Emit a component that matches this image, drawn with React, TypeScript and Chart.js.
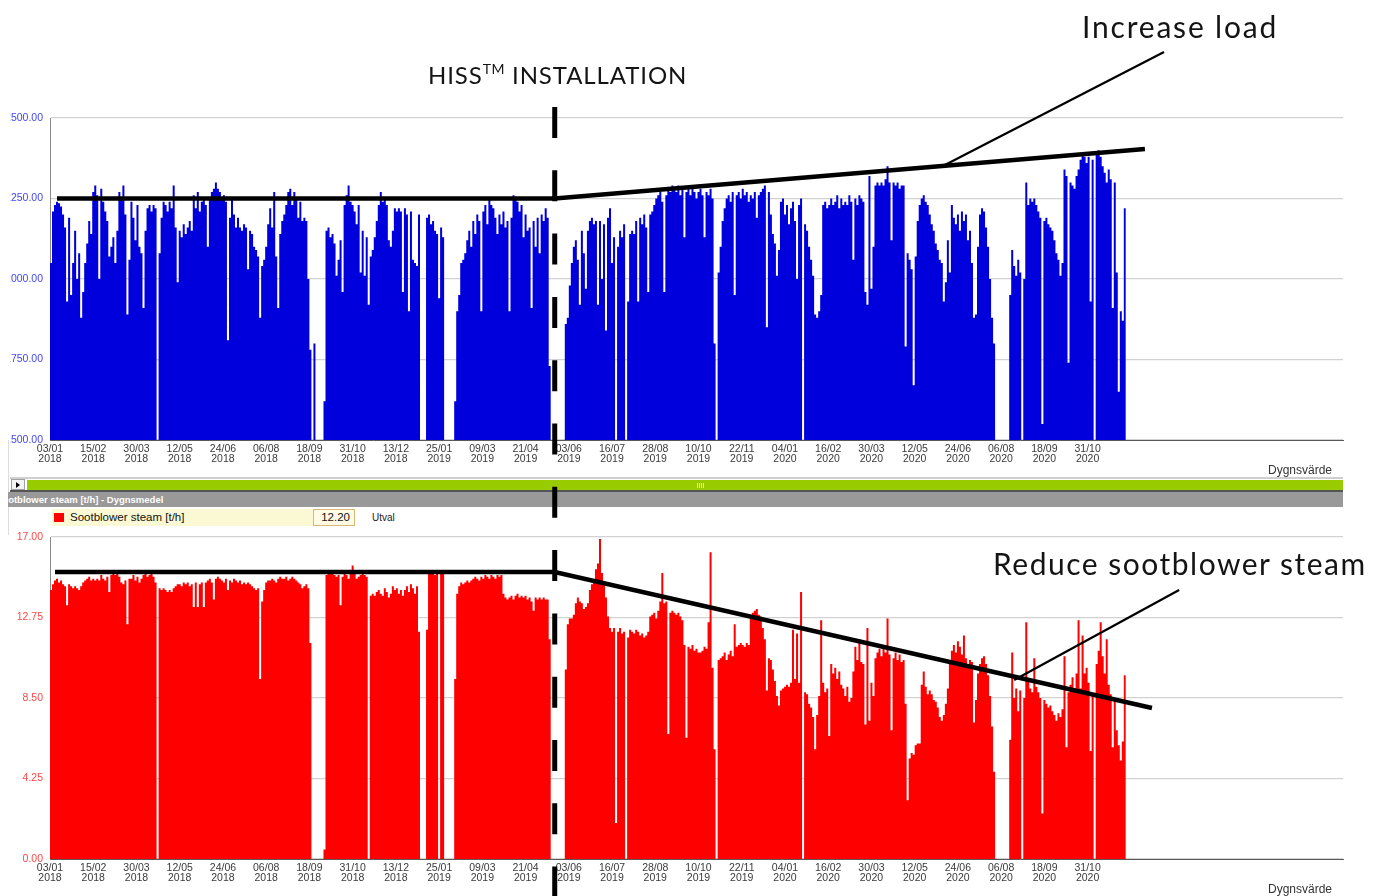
import React, { useEffect, useRef } from 'react';
import { Chart, registerables } from 'chart.js';

Chart.register(...registerables);
Chart.defaults.font.family = "'Liberation Sans', Arial, sans-serif";

// ---- time axis (days since 03/01/2018), each value below is a 2-day mean ----
const BIN_DAYS = 2;
const X_MAX_DAYS = 1286;
const TICK_STEP_DAYS = 43;
const INSTALL_DAY = 502;

const tickDayMonth = ['03/01', '15/02', '30/03', '12/05', '24/06', '06/08', '18/09', '31/10', '13/12', '25/01', '09/03', '21/04', '03/06', '16/07', '28/08', '10/10', '22/11', '04/01', '16/02', '30/03', '12/05', '24/06', '06/08', '18/09', '31/10'];
const tickYear = ['2018', '2018', '2018', '2018', '2018', '2018', '2018', '2018', '2018', '2019', '2019', '2019', '2019', '2019', '2019', '2019', '2019', '2020', '2020', '2020', '2020', '2020', '2020', '2020', '2020'];

// ---- load (top panel) ----
const load2018 = [
  2050, 2210, 2230, 2240, 2235, 2225, 2200, 2160, 1930, 2190,
  1950, 2050, 2150, 2000, 2080, 1880, 1960, 2050, 2110, 2180,
  2140, 2270, 2290, 2260, 2000, 2280, 2240, 2210, 2180, 2070,
  2100, 2130, 2050, 2150, 2270, 2250, 2290, 2200, 1890, 2060,
  2240, 2190, 2120, 2230, 2100, 2080, 1910, 2150, 2220, 2230,
  2210, 2230, 2220, 0, 2080, 2190, 2240, 2230, 2210, 2240,
  2220, 2290, 2160, 1990, 2150, 2130, 2170, 2140, 2160, 2180,
  2150, 2260, 2220, 2270, 2210, 2240, 2250, 2230, 2100, 2250,
  2270, 2280, 2300, 2280, 2270, 2250, 2260, 2240, 1810, 2190,
  2250, 2200, 2160, 2190, 2160, 2150, 2170, 2160, 2030, 2150,
  2140, 2100, 2090, 2070, 1880, 2040, 2060, 2100, 2170, 2220,
  2160, 2270, 2070, 1910, 2140, 2180, 2200, 2230, 2270, 2280,
  2230, 2270, 2250, 2190, 2240, 2180, 2190, 2180, 2000, 1780,
  0, 1800, 0, 0, 0, 0, 1620, 2150, 2160, 2130,
  2140, 2110, 2010, 2060, 2120, 1960, 2230, 2260, 2290, 2240,
  2230, 2210, 2170, 2230, 2020, 2150, 2010, 2130, 1920, 2070,
  2090, 2130, 2180, 2230, 2270, 2240, 2250, 2230, 2120, 2100,
  2150, 2220, 2210, 2220, 2210, 1960, 2220, 2200, 1900, 2210,
  2060, 2050,
];
const load2019 = [
  2040, 2200, 0, 0, 0, 2190, 2200, 2170,
  2180, 2150, 2140, 1940, 2160, 2130, 0, 0, 0, 0,
  0, 1620, 1900, 1950, 2050, 2060, 2080, 2120, 2150, 2100,
  2180, 2140, 2200, 2180, 1900, 2210, 2230, 2170, 2250, 2230,
  2220, 2190, 2140, 2200, 2170, 2210, 2160, 2180, 1900, 2190,
  2260, 2250, 2240, 2210, 2230, 2130, 2200, 2150, 2160, 1910,
  2180, 2100, 2190, 2080, 2200, 2180, 2220, 2190, 1730, 0,
  0, 0, 0, 0, 0, 0, 1860, 1880, 1980, 2050,
  2100, 2120, 2060, 1920, 2150, 2080, 1970, 2150, 2180, 2190,
  2170, 2180, 1920, 2180, 2000, 2170, 1840, 2190, 2220, 2050,
  2130, 0, 2100, 2150, 2130, 2170, 0, 1930, 2140, 2150,
  2140, 2180, 1930, 2190, 2170, 2200, 2160, 1960, 2200, 2210,
  2230, 2250, 2260, 2270, 2240, 1960, 2260, 2280, 2270, 2290,
  2280, 2270, 2290, 2260, 2280, 2130, 2270, 2280, 2260, 2280,
  2270, 2250, 2270, 2280, 2260, 2130, 2270, 2260, 2280, 2250,
  1800, 0, 2020, 2100, 2180, 2220, 2250, 2260, 2240, 2270,
  1950, 2260, 2270, 2250, 2280, 2260, 2270, 2240, 2260, 2250,
  2270, 2190, 2260, 2270, 2280, 2290, 1850, 2270, 2200, 2140,
  2110, 2010, 2090, 2240,
];
const load2020 = [
  2250, 2200, 2230, 2170, 2220, 2240,
  2180, 2000, 2230, 2250, 0, 2170, 2150, 2100, 2060, 2010,
  1890, 1880, 1900, 1950, 2230, 2240, 2220, 2230, 2250, 2230,
  2240, 2260, 2220, 2250, 2230, 2240, 2230, 2260, 2240, 2060,
  2250, 2230, 2260, 2250, 2240, 1960, 1920, 2320, 1970, 2100,
  2290, 2300, 2290, 2300, 2290, 2310, 2350, 2300, 2120, 2300,
  2290, 2300, 2280, 2290, 2290, 1790, 2080, 2060, 2030, 1670,
  2070, 2180, 2230, 2250, 2260, 2240, 2230, 2200, 2170, 2150,
  2110, 2090, 2060, 2050, 1930, 1990, 2120, 2020, 2230, 2190,
  2170, 2200, 2150, 2210, 2180, 2200, 2120, 2150, 2050, 1880,
  1890, 2100, 2200, 2220, 2210, 2160, 2100, 2000, 1880, 1800,
  0, 0, 0, 0, 0, 0, 0, 1950, 2090, 2040,
  2010, 2060, 2020, 0, 2000, 2300, 2230, 2250, 2240, 2250,
  2230, 2210, 2190, 1550, 2180, 2190, 2170, 2160, 2150, 2120,
  2080, 2060, 2010, 2050, 2340, 2320, 1740, 2300, 2290, 2280,
  2320, 2340, 2370, 2390, 2380, 2360, 2380, 1930, 2370, 0,
  2390, 2400, 2380, 2350, 2330, 2300, 2340, 2310, 1910, 2300,
  2020, 1650, 1900, 1870, 2220,
];

// ---- sootblower steam [t/h] (bottom panel) ----
const soot2018 = [
  14.2, 14.5, 14.7, 14.8, 14.6, 14.7, 14.5, 14.4, 13.4, 14.5,
  14.4, 14.3, 14.4, 14.3, 14.2, 14.4, 14.6, 14.7, 14.8, 14.9,
  14.7, 14.8, 14.7, 14.8, 14.7, 15.0, 14.8, 14.7, 14.9, 14.1,
  15.0, 15.1, 15.0, 15.1, 14.9, 14.6, 14.5, 14.7, 12.4, 14.8,
  14.8, 15.0, 14.7, 14.9, 14.6, 14.8, 15.0, 15.1, 14.9, 15.0,
  15.1, 14.9, 14.6, 0, 14.3, 14.2, 14.3, 14.2, 14.1, 14.2,
  14.1, 14.3, 14.4, 14.5, 14.5, 14.4, 14.6, 14.5, 14.6, 14.4,
  14.5, 13.3, 14.6, 13.3, 14.5, 14.6, 13.3, 14.6, 14.7, 14.8,
  14.6, 13.7, 14.8, 14.9, 14.8, 14.7, 14.6, 14.8, 14.2, 14.7,
  14.6, 14.8, 14.7, 14.6, 14.7, 14.5, 14.6, 14.5, 14.6, 14.5,
  14.4, 14.3, 14.2, 14.3, 9.5, 13.6, 14.2, 14.6, 14.7, 14.7,
  14.8, 14.7, 14.6, 14.8, 14.9, 14.8, 14.8, 14.9, 14.7, 14.8,
  14.9, 14.8, 14.7, 14.6, 14.5, 14.3, 14.4, 14.5, 14.3, 11.4,
  0, 0, 0, 0, 0, 0, 0.5, 15.0, 15.1, 15.2,
  15.1, 15.0, 14.9, 15.0, 13.4, 14.9, 15.1, 15.0, 14.8, 15.1,
  15.5, 15.1, 14.8, 14.9, 15.0, 15.1, 15.0, 14.9, 0, 13.9,
  14.0, 13.9, 14.1, 14.2, 14.0, 13.9, 14.3, 14.1, 13.8, 14.0,
  14.4, 14.2, 14.3, 14.0, 14.2, 13.9, 14.2, 14.4, 14.1, 14.5,
  14.3, 14.0,
];
const soot2019 = [
  14.4, 12.0, 0, 0, 0, 12.1, 15.1, 15.1,
  15.1, 15.0, 15.1, 0, 15.1, 15.1, 0, 0, 0, 0,
  0, 9.5, 14.0, 14.4, 14.6, 14.5, 14.6, 14.7, 14.6, 14.7,
  14.8, 14.9, 14.8, 14.7, 14.9, 14.8, 15.0, 14.9, 14.8, 15.0,
  14.9, 14.8, 15.0, 14.9, 15.0, 14.0, 13.8, 13.7, 13.8, 13.9,
  13.7, 13.9, 14.0, 13.8, 13.9, 13.8, 13.9, 13.7, 13.8, 13.6,
  13.1, 13.8, 13.7, 13.8, 13.7, 13.8, 13.7, 13.7, 11.6, 0,
  0, 0, 0, 0, 0, 0, 10.0, 12.4, 12.7, 12.7,
  12.9, 13.5, 13.8, 13.6, 13.5, 13.2, 13.3, 13.5, 14.2, 14.5,
  14.7, 15.3, 15.6, 16.9, 15.1, 14.6, 13.8, 12.8, 12.2, 12.0,
  12.2, 1.9, 12.0, 12.2, 11.9, 12.0, 0, 11.7, 12.1, 12.0,
  11.9, 12.1, 12.0, 11.8, 11.9, 11.7, 11.8, 12.0, 12.8, 12.9,
  13.0, 12.7, 13.1, 13.6, 15.1, 13.5, 13.6, 6.6, 13.0, 13.1,
  13.0, 12.9, 13.0, 12.8, 12.6, 11.3, 6.4, 11.2, 11.1, 11.3,
  11.0, 11.1, 10.9, 10.9, 11.0, 11.2, 11.1, 12.5, 16.2, 10.1,
  5.8, 0, 10.5, 10.6, 10.7, 10.9, 10.5, 10.8, 11.0, 10.7,
  12.4, 11.2, 11.3, 11.4, 11.3, 11.2, 11.4, 11.3, 12.7, 13.0,
  13.1, 13.2, 12.9, 12.8, 12.2, 11.6, 8.9, 10.6, 10.5, 10.0,
  9.4, 8.6, 8.1, 8.9,
];
const soot2020 = [
  9.0, 9.1, 9.2, 9.1, 9.3, 12.1,
  9.5, 11.9, 9.3, 14.1, 0, 8.8, 8.7, 8.2, 8.0, 7.5,
  5.8, 7.6, 8.6, 12.6, 9.3, 8.8, 9.0, 6.5, 10.3, 9.8,
  10.1, 9.5, 9.9, 9.2, 9.0, 8.6, 9.1, 8.3, 8.5, 9.9,
  11.2, 10.5, 11.6, 10.4, 10.3, 7.1, 12.2, 7.3, 9.3, 8.6,
  10.6, 10.9, 11.1, 10.7, 11.2, 10.9, 12.7, 10.8, 6.8, 10.6,
  10.9, 10.5, 10.8, 10.4, 10.5, 8.2, 3.1, 5.3, 5.6, 5.5,
  6.0, 6.1, 6.1, 9.2, 9.9, 9.1, 8.7, 8.9, 8.7, 8.4,
  8.3, 8.0, 7.5, 7.3, 7.6, 8.2, 9.0, 10.4, 11.0, 11.3,
  10.9, 11.5, 11.2, 10.8, 11.8, 10.6, 10.2, 10.5, 10.4, 7.2,
  8.4, 9.8, 10.3, 10.6, 10.7, 10.3, 9.7, 8.6, 7.0, 4.6,
  0, 0, 0, 0, 0, 0, 0, 6.3, 10.9, 8.5,
  9.0, 7.8, 8.9, 0, 8.5, 12.5, 9.4, 9.0, 8.8, 10.6,
  9.1, 8.8, 8.5, 2.4, 8.4, 8.2, 8.0, 8.1, 7.8, 7.6,
  7.3, 7.7, 7.5, 7.9, 10.7, 5.9, 8.8, 9.2, 9.6, 8.9,
  9.8, 12.6, 9.0, 11.8, 9.8, 10.1, 9.3, 5.7, 8.6, 0,
  10.3, 11.0, 12.5, 10.7, 9.8, 11.6, 9.2, 8.7, 5.9, 8.4,
  6.8, 6.0, 5.2, 6.2, 9.7,
];

// ---- annotation lines (in data units: day, value) ----
const loadTrendDays = [7, INSTALL_DAY, 1089];
const loadTrendValues = [2250, 2250, 2404];
const loadLeaderDays = [890, 1108];
const loadLeaderValues = [2354, 2705];
const sootTrendDays = [5, INSTALL_DAY, 1096];
const sootTrendValues = [15.15, 15.15, 7.97];
const sootLeaderDays = [959, 1123];
const sootLeaderValues = [9.45, 14.2];

const loadValues = [...load2018, ...load2019, ...load2020];
const sootValues = [...soot2018, ...soot2019, ...soot2020];

const toSteps = (vals: number[]) => [
  ...vals.map((v, i) => ({ x: i * BIN_DAYS, y: v })),
  { x: vals.length * BIN_DAYS, y: vals[vals.length - 1] },
];
const toPts = (xs: number[], ys: number[]) => xs.map((x, i) => ({ x, y: ys[i] }));

const DASH_TOP = 107;

const installLine = (startY: number, phase: number) => ({
  id: 'installLine',
  afterDatasetsDraw(chart: any) {
    const x = chart.scales.x.getPixelForValue(INSTALL_DAY);
    const ctx = chart.ctx;
    ctx.save();
    ctx.strokeStyle = '#000';
    ctx.lineWidth = 5;
    ctx.setLineDash([31, 32.3]);
    ctx.lineDashOffset = phase;
    ctx.beginPath();
    ctx.moveTo(x, startY);
    ctx.lineTo(x, chart.height);
    ctx.stroke();
    ctx.restore();
  },
});

function makeConfig(opts: {
  values: number[];
  color: string;
  labelColor: string;
  min: number;
  max: number;
  step: number;
  trend: { x: number; y: number }[];
  leader: { x: number; y: number }[];
  padTop: number;
  padBottom: number;
  xHeight: number;
  plugin: any;
}): any {
  return {
    type: 'line',
    data: {
      datasets: [
        {
          data: opts.trend,
          borderColor: '#000',
          borderWidth: 4.5,
          pointRadius: 0,
          fill: false,
          tension: 0,
          clip: false,
        },
        {
          data: opts.leader,
          borderColor: '#000',
          borderWidth: 2.2,
          pointRadius: 0,
          fill: false,
          tension: 0,
          clip: false,
        },
        {
          data: toSteps(opts.values),
          borderColor: 'rgba(0,0,0,0)',
          borderWidth: 1,
          backgroundColor: opts.color,
          pointRadius: 0,
          stepped: true,
          fill: 'start',
          tension: 0,
        },
      ],
    },
    options: {
      responsive: false,
      animation: false,
      events: [],
      layout: { padding: { top: opts.padTop, right: 41, bottom: opts.padBottom, left: 0 } },
      plugins: { legend: { display: false }, tooltip: { enabled: false } },
      scales: {
        x: {
          type: 'linear',
          min: 0,
          max: X_MAX_DAYS,
          afterBuildTicks: (s: any) => {
            s.ticks = tickDayMonth.map((_, i) => ({ value: i * TICK_STEP_DAYS }));
          },
          afterFit: (s: any) => {
            s.height = opts.xHeight;
          },
          ticks: {
            autoSkip: false,
            maxRotation: 0,
            minRotation: 0,
            padding: 4,
            color: '#3a3a3a',
            font: { size: 10.5, lineHeight: '10px' },
            callback: (_v: any, i: number) => [tickDayMonth[i], tickYear[i]],
          },
          grid: { display: false, drawTicks: false },
          border: { color: '#5a5a5a', width: 1 },
        },
        y: {
          min: opts.min,
          max: opts.max,
          afterFit: (s: any) => {
            s.width = 50;
          },
          ticks: {
            stepSize: opts.step,
            padding: 7,
            color: opts.labelColor,
            font: { size: 10.5 },
            callback: (v: any) => Number(v).toFixed(2),
          },
          grid: { color: '#d2d2d2', lineWidth: 1.3, drawTicks: false },
          border: { color: '#8a8a8a', width: 1 },
        },
      },
    },
    plugins: [opts.plugin],
  };
}

const annoFont = "Lato, 'Noto Sans', sans-serif";

export default function App() {
  const topRef = useRef<HTMLCanvasElement>(null);
  const botRef = useRef<HTMLCanvasElement>(null);

  useEffect(() => {
    const top = new Chart(
      topRef.current as HTMLCanvasElement,
      makeConfig({
        values: loadValues,
        color: '#0000dc',
        labelColor: '#4646ee',
        min: 1500,
        max: 2500,
        step: 250,
        trend: toPts(loadTrendDays, loadTrendValues),
        leader: toPts(loadLeaderDays, loadLeaderValues),
        padTop: 118,
        padBottom: 42,
        xHeight: 38,
        plugin: installLine(DASH_TOP, 0),
      })
    );
    const bot = new Chart(
      botRef.current as HTMLCanvasElement,
      makeConfig({
        values: sootValues,
        color: '#ff0000',
        labelColor: '#ff4848',
        min: 0,
        max: 17,
        step: 4.25,
        trend: toPts(sootTrendDays, sootTrendValues),
        leader: toPts(sootLeaderDays, sootLeaderValues),
        padTop: 17,
        padBottom: 0,
        xHeight: 37,
        plugin: installLine(0, 520 - DASH_TOP),
      })
    );
    return () => {
      top.destroy();
      bot.destroy();
    };
  }, []);

  const small: React.CSSProperties = {
    position: 'absolute',
    fontFamily: "'Liberation Sans', Arial, sans-serif",
    whiteSpace: 'nowrap',
  };

  return (
    <div
      style={{
        position: 'absolute',
        left: 0,
        top: 0,
        width: 1384,
        height: 896,
        overflow: 'hidden',
        background: '#fff',
      }}
    >
      {/* panel separator strip */}
      <div style={{ position: 'absolute', left: 8, top: 440, width: 1, height: 95, background: '#dcdcdc' }} />
      <div style={{ position: 'absolute', left: 10, top: 477, width: 1333, height: 2, background: '#cfcfcf' }} />
      <div
        style={{
          position: 'absolute',
          left: 11,
          top: 479,
          width: 14,
          height: 11,
          background: '#f4f4f4',
          border: '1px solid #a0a0a0',
          boxSizing: 'border-box',
        }}
      >
        <div
          style={{
            position: 'absolute',
            left: 4,
            top: 2,
            width: 0,
            height: 0,
            borderTop: '3px solid transparent',
            borderBottom: '3px solid transparent',
            borderLeft: '4px solid #000',
          }}
        />
      </div>
      <div style={{ position: 'absolute', left: 27, top: 480, width: 1316, height: 10, background: '#99cc00' }} />
      <div style={{ position: 'absolute', left: 697, top: 483, width: 1, height: 5, background: '#e6e6e6' }} />
      <div style={{ position: 'absolute', left: 699, top: 483, width: 1, height: 5, background: '#e6e6e6' }} />
      <div style={{ position: 'absolute', left: 701, top: 483, width: 1, height: 5, background: '#e6e6e6' }} />
      <div style={{ position: 'absolute', left: 703, top: 483, width: 1, height: 5, background: '#e6e6e6' }} />
      <div style={{ position: 'absolute', left: 10, top: 490, width: 1333, height: 2, background: '#555' }} />
      <div
        style={{
          position: 'absolute',
          left: 8,
          top: 492,
          width: 1335,
          height: 15,
          background: '#999999',
          overflow: 'hidden',
        }}
      >
        <span
          style={{
            ...small,
            left: -12,
            top: 2,
            color: '#fff',
            fontWeight: 'bold',
            fontSize: 9.5,
            lineHeight: '11px',
          }}
        >
          Sootblower steam [t/h] - Dygnsmedel
        </span>
      </div>
      {/* legend row */}
      <div style={{ position: 'absolute', left: 52, top: 509, width: 261, height: 17, background: '#fbf8d4' }} />
      <div style={{ position: 'absolute', left: 54, top: 513, width: 10, height: 9, background: '#ff0000' }} />
      <span style={{ ...small, left: 70, top: 510, fontSize: 11.5, lineHeight: '14px', color: '#111' }}>
        Sootblower steam [t/h]
      </span>
      <div
        style={{
          ...small,
          left: 313,
          top: 509,
          width: 42,
          height: 17,
          boxSizing: 'border-box',
          border: '1px solid #d9b876',
          background: '#fffbe4',
          fontSize: 11.5,
          lineHeight: '15px',
          textAlign: 'right',
          paddingRight: 4,
          color: '#111',
        }}
      >
        12.20
      </div>
      <span style={{ ...small, left: 372, top: 512, fontSize: 10, lineHeight: '12px', color: '#222' }}>Utval</span>

      <canvas
        ref={topRef}
        width={1384}
        height={520}
        style={{ position: 'absolute', left: 0, top: 0, clipPath: 'inset(0px 0px 0px 10.5px)' }}
      />
      <canvas ref={botRef} width={1384} height={376} style={{ position: 'absolute', left: 0, top: 520 }} />

      <span style={{ ...small, left: 1268, top: 463, fontSize: 12, lineHeight: '14px', color: '#333' }}>Dygnsvärde</span>
      <span style={{ ...small, left: 1268, top: 882, fontSize: 12, lineHeight: '14px', color: '#333' }}>Dygnsvärde</span>

      {/* annotations */}
      <span
        style={{
          position: 'absolute',
          left: 1082,
          top: 10,
          fontFamily: annoFont,
          fontSize: 30,
          letterSpacing: '1.8px',
          lineHeight: '32px',
          color: '#141414',
          whiteSpace: 'nowrap',
        }}
      >
        Increase load
      </span>
      <span
        style={{
          position: 'absolute',
          left: 428,
          top: 60,
          fontFamily: annoFont,
          fontSize: 24,
          letterSpacing: '0.9px',
          lineHeight: '30px',
          color: '#141414',
          whiteSpace: 'nowrap',
        }}
      >
        HISS
        <span style={{ fontSize: 14, position: 'relative', top: -10, letterSpacing: '0.5px' }}>TM</span> INSTALLATION
      </span>
      <span
        style={{
          position: 'absolute',
          left: 993,
          top: 547,
          fontFamily: annoFont,
          fontSize: 30,
          letterSpacing: '1.5px',
          lineHeight: '32px',
          color: '#141414',
          whiteSpace: 'nowrap',
        }}
      >
        Reduce sootblower steam
      </span>
    </div>
  );
}
